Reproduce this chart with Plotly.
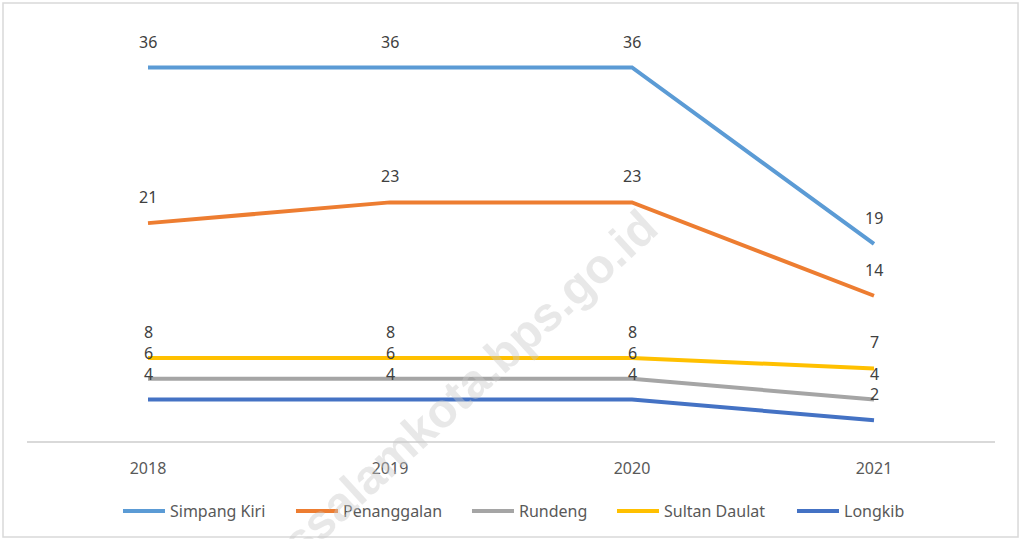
import plotly.graph_objects as go

years = ["2018", "2019", "2020", "2021"]
simpang_kiri = [36, 36, 36, 19]
penanggalan = [21, 23, 23, 14]
rundeng = [6, 6, 6, 4]
sultan_daulat = [8, 8, 8, 7]
longkib = [4, 4, 4, 2]

series = [
    ("Simpang Kiri", simpang_kiri, "#5B9BD5", 116),
    ("Penanggalan", penanggalan, "#ED7D31", 119),
    ("Rundeng", rundeng, "#A5A5A5", 88),
    ("Sultan Daulat", sultan_daulat, "#FFC000", 123),
    ("Longkib", longkib, "#4472C4", 88),
]

FONT = "Noto Sans"
fig = go.Figure()
annotations = []
for name, vals, color, lw in series:
    fig.add_trace(go.Scatter(
        x=years, y=vals, name=name, mode="lines",
        line=dict(color=color, width=4),
        legendwidth=lw,
        hoverinfo="x+y+name",
    ))
    for i, yv in enumerate(vals):
        annotations.append(dict(
            x=i, y=yv, text=str(yv), showarrow=False,
            yshift=26, yanchor="middle", xanchor="center",
            font=dict(family=FONT, size=16, color="#404040"),
        ))

# watermark
annotations.append(dict(
    x=0.397, y=0.008, xref="paper", yref="paper",
    text="subulussalamkota.bps.go.id", showarrow=False,
    textangle=-42.5, xanchor="center", yanchor="middle",
    font=dict(family="Liberation Sans", size=48, color="rgba(200,200,200,0.42)",
              weight="bold"),
))

fig.update_layout(
    width=1023, height=539,
    margin=dict(l=27, r=28, t=26, b=98, autoexpand=False),
    paper_bgcolor="white", plot_bgcolor="white",
    showlegend=True,
    legend=dict(orientation="h", x=0.094, xanchor="left", y=-0.169,
                yanchor="middle", font=dict(family=FONT, size=16, color="#595959"),
                itemwidth=42, tracegroupgap=0),
    annotations=annotations,
    shapes=[dict(type="rect", xref="paper", yref="paper",
                 x0=-0.0248, x1=1.0238, y0=-0.2313, y1=1.0554,
                 line=dict(color="#D9D9D9", width=1.5), fillcolor="rgba(0,0,0,0)",
                 layer="below")],
    xaxis=dict(
        type="category", range=[-0.5, 3.5], showgrid=False, zeroline=False,
        showline=True, linecolor="#D9D9D9", linewidth=1.5,
        ticks="", tickfont=dict(family=FONT, size=16, color="#595959"),
        ticklabelstandoff=12,
    ),
    yaxis=dict(range=[0, 40], showgrid=False, zeroline=False,
               showticklabels=False, showline=False, ticks=""),
)

fig.write_html("out.html", config={"displayModeBar": False},
               post_script="document.body.style.margin='0px';")
